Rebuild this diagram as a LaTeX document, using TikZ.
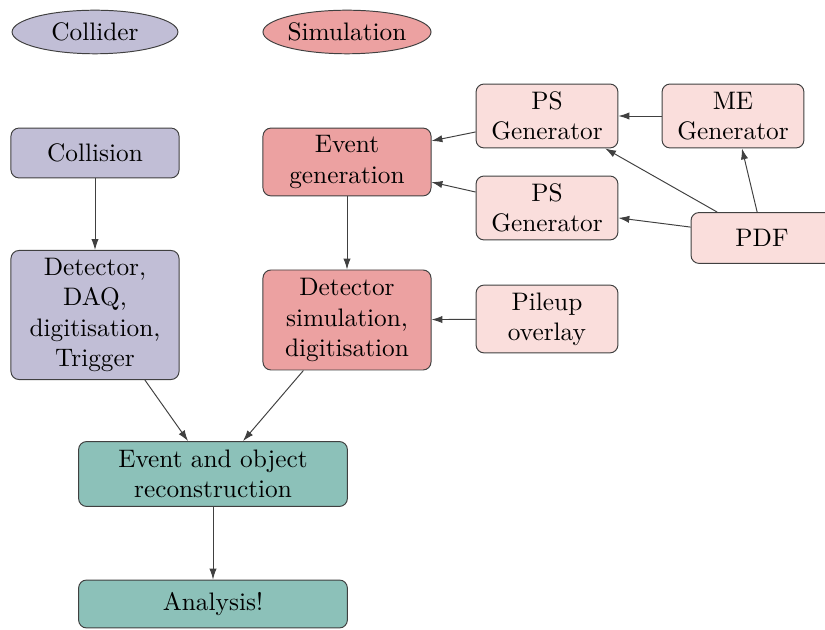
\documentclass[tikz,border=0pt]{standalone}
\usepackage{tikz}
\usetikzlibrary{arrows.meta,positioning,shapes.geometric}
\usepackage{xcolor}

\definecolor{colcol}{RGB}{193,190,214}
\definecolor{simcol}{RGB}{236,161,161}
\definecolor{gencol}{RGB}{250,222,220}
\definecolor{recocol}{RGB}{140,193,185}

\tikzset{
  box/.style={draw=black!75, rounded corners=3.3pt, align=center, inner sep=2pt,
    font=\fontsize{10.45}{12.5}\selectfont},
  legend/.style={draw=black!75, ellipse, minimum width=68.5pt, minimum height=18pt, inner sep=0pt,
    font=\fontsize{10.45}{12.5}\selectfont},
  link/.style={-{Latex[length=4.5pt,width=3pt]}, black!75}
}

\begin{document}
\begin{tikzpicture}[x=0.413pt, y=-0.413pt]
  \useasboundingbox (0,0) rectangle (825,630);

  % Legend
  \node[legend, fill=colcol] (leg1) at (95,32) {Collider};
  \node[legend, fill=simcol] (leg2) at (347,32) {Simulation};

  % Collider chain
  \node[box, fill=colcol, minimum width=69.4pt, minimum height=20.6pt] (coll) at (95,153) {Collision};
  \node[box, fill=colcol, minimum width=69.4pt, minimum height=53.3pt] (daq) at (95,315)
    {Detector,\\DAQ,\\digitisation,\\Trigger};

  % Simulation chain
  \node[box, fill=simcol, minimum width=69.4pt, minimum height=28pt] (evgen) at (347,162) {Event\\generation};
  \node[box, fill=simcol, minimum width=69.4pt, minimum height=41.3pt] (detsim) at (347,320)
    {Detector\\simulation,\\digitisation};

  % Generators
  \node[box, fill=gencol, minimum width=58.6pt, minimum height=26.4pt] (ps1) at (547,116) {PS\\Generator};
  \node[box, fill=gencol, minimum width=58.6pt, minimum height=26.4pt] (me) at (733,116) {ME\\Generator};
  \node[box, fill=gencol, minimum width=58.6pt, minimum height=26.4pt] (ps2) at (547,208) {PS\\Generator};
  \node[box, fill=gencol, minimum width=58.6pt, minimum height=21pt] (pdf) at (762,238) {PDF};
  \node[box, fill=gencol, minimum width=58.6pt, minimum height=28pt] (pileup) at (547,319) {Pileup\\overlay};

  % Reconstruction and analysis
  \node[box, fill=recocol, minimum width=111pt, minimum height=26.8pt] (reco) at (213,474)
    {Event and object\\reconstruction};
  \node[box, fill=recocol, minimum width=111pt, minimum height=19.8pt] (ana) at (213,604) {Analysis!};

  % Connections
  \draw[link] (coll) -- (daq);
  \draw[link] (evgen) -- (detsim);
  \draw[link] ([xshift=20.6pt]daq.south) -- ([xshift=-10.3pt]reco.north);
  \draw[link] ([xshift=-18pt]detsim.south) -- ([xshift=12.4pt]reco.north);
  \draw[link] (reco) -- (ana);

  \draw[link] ([yshift=-6.6pt]ps1.west) -- ([yshift=8.7pt]evgen.east);
  \draw[link] ([yshift=6.6pt]ps2.west) -- ([yshift=-8.3pt]evgen.east);
  \draw[link] (me) -- (ps1);
  \draw[link] ([xshift=-18.5pt]pdf.north) -- ([xshift=24pt]ps1.south);
  \draw[link] ([xshift=-2pt]pdf.north) -- ([xshift=3.7pt]me.south);
  \draw[link] ([yshift=4.5pt]pdf.west) -- ([yshift=-4.1pt]ps2.east);
  \draw[link] (pileup) -- (detsim);
\end{tikzpicture}
\end{document}
